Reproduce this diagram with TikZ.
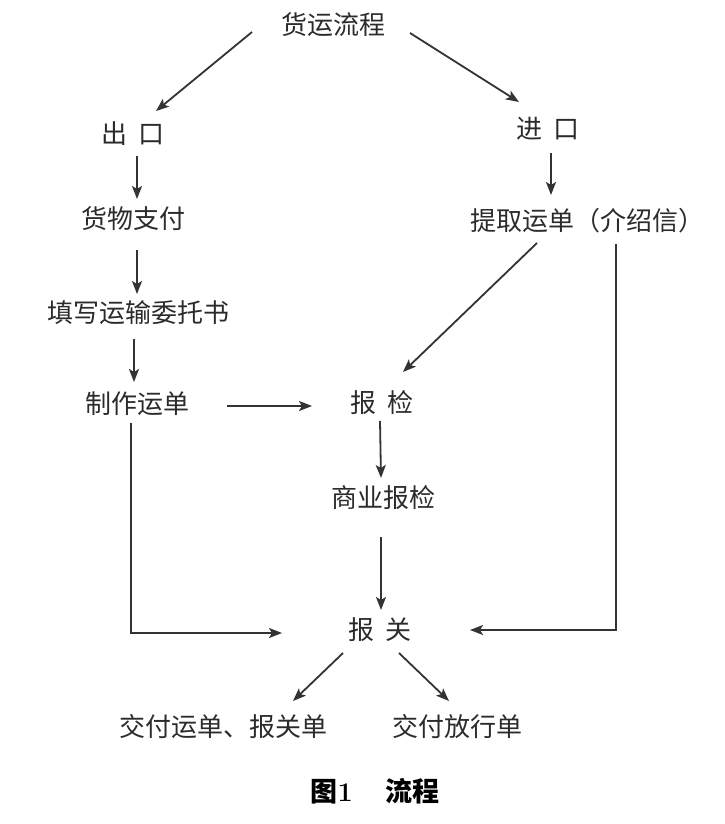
\documentclass[tikz,border=0pt]{standalone}
\usepackage{fontspec}
\newfontfamily\cjk{Noto Sans CJK SC}
\usepackage{xcolor}
\usetikzlibrary{arrows.meta,positioning,calc}
\definecolor{inkgray}{HTML}{2B2B2B}
\definecolor{linegray}{HTML}{333333}

\begin{document}
\begin{tikzpicture}[
  x=1pt, y=-1pt,
  lbl/.style={inner sep=0pt, font=\cjk\fontsize{26}{30}\selectfont, text=inkgray},
  captext/.style={inner sep=0pt, font=\cjk\bfseries\fontsize{27}{31}\selectfont, text=black},
  flowarrow/.style={draw=linegray, line width=1.8pt, -{Stealth[length=13pt, width=10pt, inset=3pt]}},
  >=Stealth
]
\useasboundingbox (0,0) rectangle (725,824);

% Top
\node[lbl] (flow) at (333,25) {货运流程};

% Export branch
\node[lbl] (out)  at (133,134) {出\hspace{0.4em}口};
\node[lbl] (pay)  at (133,219) {货物支付};
\node[lbl] (fill) at (138,313) {填写运输委托书};
\node[lbl] (make) at (137,404) {制作运单};

% Import branch
\node[lbl] (in)   at (548,129) {进\hspace{0.4em}口};
\node[lbl] (bill) at (587,221) {提取运单（介绍信）};

% Inspection and customs
\node[lbl] (insp) at (382,403) {报\hspace{0.4em}检};
\node[lbl] (biz)  at (383,498) {商业报检};
\node[lbl] (cust) at (380,630) {报\hspace{0.4em}关};

% Outputs
\node[lbl] (doc)  at (223,727) {交付运单、报关单};
\node[lbl] (rel)  at (457,727) {交付放行单};

% Caption
\node[captext] (caption) at (375,791) {图{\normalfont\bfseries 1}\hspace{1.2em}流程};

\draw[flowarrow] ([shift={(-81,7)}]flow.center) -- ([shift={(23,-23)}]out.center);
\draw[flowarrow] ([shift={(77,8)}]flow.center) -- ([shift={(-29,-27)}]in.center);
\draw[flowarrow] ([shift={(4,22)}]out.center) -- ([shift={(4,-20)}]pay.center);
\draw[flowarrow] ([shift={(4,31)}]pay.center) -- ([shift={(-1,-19)}]fill.center);
\draw[flowarrow] ([shift={(-4,26)}]fill.center) -- ([shift={(-3,-22)}]make.center);
\draw[flowarrow] ([shift={(90,2)}]make.center) -- ([shift={(-70,3)}]insp.center);
\draw[flowarrow] ([shift={(3,24)}]in.center) -- ([shift={(-36,-26)}]bill.center);
\draw[flowarrow] ([shift={(-50,22)}]bill.center) -- ([shift={(21,-31)}]insp.center);
\draw[flowarrow] ([shift={(29,23)}]bill.center) |- ([shift={(90,0)}]cust.center);
\draw[flowarrow] ([shift={(-2,18)}]insp.center) -- ([shift={(-2,-20)}]biz.center);
\draw[flowarrow] ([shift={(-2,39)}]biz.center) -- ([shift={(1,-20)}]cust.center);
\draw[flowarrow] ([shift={(-6,19)}]make.center) |- ([shift={(-98,3)}]cust.center);
\draw[flowarrow] ([shift={(-37,23)}]cust.center) -- ([shift={(70,-26)}]doc.center);
\draw[flowarrow] ([shift={(19,23)}]cust.center) -- ([shift={(-8,-26)}]rel.center);
\end{tikzpicture}
\end{document}
